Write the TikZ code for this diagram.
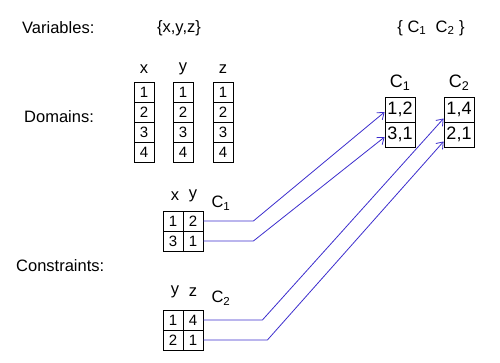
\documentclass[tikz,border=0pt]{standalone}
\usepackage{fontspec}
\setmainfont{Liberation Sans}
\usetikzlibrary{arrows.meta,positioning}
\definecolor{linkblue}{RGB}{60,45,205}
\tikzset{
  lbl/.style={font=\fontsize{16.5}{19}\selectfont, inner sep=1pt},
  cell/.style={
    draw,
    line width=0.8pt,
    rectangle,
    inner sep=0pt,
    minimum width=20pt,
    minimum height=20pt,
    font=\fontsize{15}{17}\selectfont,
  },
  tcell/.style={cell, minimum width=30pt, minimum height=25pt, font=\fontsize{18}{20}\selectfont},
  link/.style={draw=linkblue, line width=0.8pt, -{Straight Barb[length=6pt, width=9pt]}},
}

\begin{document}
\begin{tikzpicture}[x=1pt, y=-1pt]
  \useasboundingbox (0,0) rectangle (500,363);

  % headings
  \node[lbl, anchor=west] (var) at (21,28) {Variables:};
  \node[lbl] (varset) at (179,28) {\{x,y,z\}};
  \node[lbl] (conset) at (431,28) {\{ C\textsubscript{1}\ \ C\textsubscript{2} \}};
  \node[lbl, anchor=west] (dom) at (23,117) {Domains:};
  \node[lbl, anchor=west] (con) at (15,266) {Constraints:};

  % domains
  \foreach \v/\cx in {x/144, y/183, z/223} {
    \node[lbl] (h\v) at (\cx,69) {\v};
    \foreach \n in {1,...,4}
      \node[cell] (d\v\n) at (\cx,{72+20*\n}) {\n};
  }

  % constraint C1
  \node[lbl] (c1hx) at (175,196) {x};
  \node[lbl] (c1hy) at (193,196) {y};
  \node[lbl] (c1name) at (221,203) {C\textsubscript{1}};
  \node[cell] (c1a1) at (173,221) {1};
  \node[cell] (c1b1) at (193,221) {2};
  \node[cell] (c1a2) at (173,241) {3};
  \node[cell] (c1b2) at (193,241) {1};

  % constraint C2
  \node[lbl] (c2hy) at (175,292) {y};
  \node[lbl] (c2hz) at (193,292) {z};
  \node[lbl] (c2name) at (221,298) {C\textsubscript{2}};
  \node[cell] (c2a1) at (173,320) {1};
  \node[cell] (c2b1) at (193,320) {4};
  \node[cell] (c2a2) at (173,340) {2};
  \node[cell] (c2b2) at (193,340) {1};

  % tuples
  \node[lbl, font=\fontsize{18}{20}\selectfont] (t1name) at (400,83) {C\textsubscript{1}};
  \node[tcell] (t1a) at (400,109.5) {1,2};
  \node[tcell] (t1b) at (400,134.5) {3,1};
  \node[lbl, font=\fontsize{18}{20}\selectfont] (t2name) at (459,83) {C\textsubscript{2}};
  \node[tcell] (t2a) at (459,109.5) {1,4};
  \node[tcell] (t2b) at (459,134.5) {2,1};

  \draw[link] (c1b1.east) -- ++(50,0) -- ([yshift=-2.5pt]t1a.west);
  \draw[link] (c1b2.east) -- ++(50,0) -- ([yshift=-2.5pt]t1b.west);
  \draw[link] (c2b1.east) -- ++(59,0) -- ([yshift=-9pt]t2a.west);
  \draw[link] (c2b2.east) -- ++(64,0) -- ([yshift=-7pt]t2b.west);
\end{tikzpicture}
\end{document}
